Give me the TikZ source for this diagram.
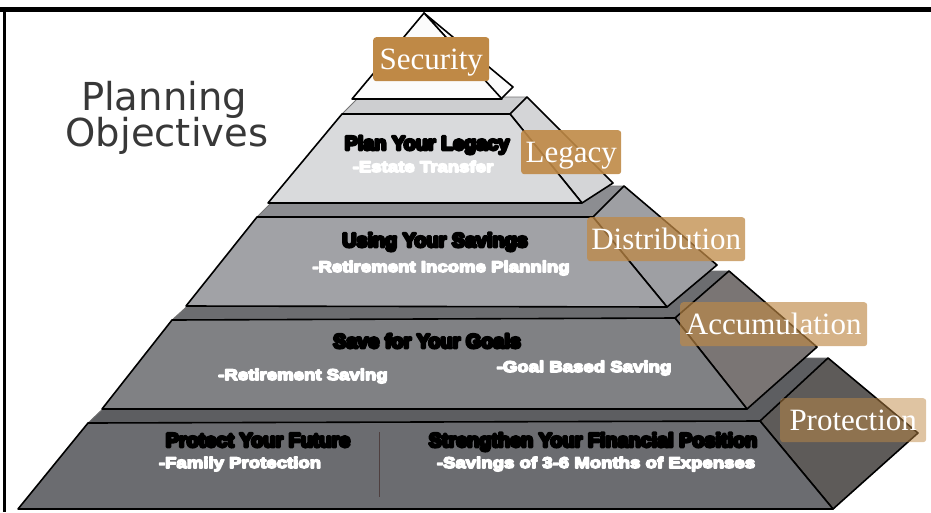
\documentclass[tikz,border=0pt]{standalone}
\usepackage{fontspec}
\newfontfamily\headfont{DejaVu Sans}
\newfontfamily\serfont{Liberation Serif}
\newfontfamily\heavyfont[FakeBold=14]{Liberation Sans Bold}
\newfontfamily\subfont[FakeStretch=1.2,FakeBold=10]{Liberation Sans Bold}
\definecolor{gold}{RGB}{191,137,70}
\definecolor{headgray}{RGB}{56,56,56}
\definecolor{fOne}{RGB}{251,251,251}
\definecolor{fTwo}{RGB}{217,218,220}
\definecolor{sTwo}{RGB}{212,213,215}
\definecolor{tTwo}{RGB}{205,206,208}
\definecolor{fThree}{RGB}{161,162,166}
\definecolor{sThree}{RGB}{158,159,163}
\definecolor{tThree}{RGB}{140,141,145}
\definecolor{fFour}{RGB}{128,129,132}
\definecolor{sFour}{RGB}{122,117,116}
\definecolor{tFour}{RGB}{108,109,112}
\definecolor{fFive}{RGB}{107,108,112}
\definecolor{sFive}{RGB}{94,91,89}
\definecolor{tFive}{RGB}{93,94,97}
\definecolor{divcol}{RGB}{78,63,63}
\begin{document}
\begin{tikzpicture}[x=1pt,y=-1pt,line join=round,
  face/.style={draw=black,line width=1.6pt},
  topface/.style={draw=black!55,line width=0.8pt},
  frame/.style={draw=black},
  lbl/.style={rounded corners=3pt,fill=gold,text=white,text opacity=1,
    font=\serfont\fontsize{31}{31}\selectfont,text height=25pt,text depth=5pt,
    inner ysep=7pt,inner xsep=0pt,minimum height=44pt,anchor=north west},
  ttl/.style={font=\heavyfont\fontsize{19.8}{19.8}\selectfont,anchor=base,inner sep=0pt},
  sub/.style={font=\subfont\fontsize{15.5}{15.5}\selectfont,text=white,anchor=base,inner sep=0pt},
  head/.style={font=\headfont\fontsize{38.5}{38.5}\selectfont,text=headgray,anchor=base,inner sep=0pt},
  divider/.style={draw=divcol,line width=1pt}]
\useasboundingbox (0,0) rectangle (931,512);

% frame
\draw[frame,line width=5pt] (0,9.5) -- (931,9.5);
\draw[frame,line width=3pt] (4.5,8) -- (4.5,512);

% ---------- layer 5 (Protection) ----------
\filldraw[topface,fill=tFive] (88,423) -- (156,358) -- (828,358) -- (760,421) -- cycle;
\filldraw[face,fill=sFive] (760,421) -- (828,358) -- (918,433) -- (833,509) -- cycle;
\filldraw[face,fill=fFive] (88,423) -- (760,421) -- (833,509) -- (18,509) -- cycle;

% ---------- layer 4 (Accumulation) ----------
\filldraw[topface,fill=tFour] (172,320) -- (226,271) -- (729,271) -- (675,318) -- cycle;
\filldraw[face,fill=sFour] (675,318) -- (729,271) -- (817,347) -- (747,409) -- cycle;
\filldraw[face,fill=fFour] (172,320) -- (675,318) -- (747,409) -- (102,409) -- cycle;

% ---------- layer 3 (Distribution) ----------
\filldraw[topface,fill=tThree] (257,217) -- (288,186) -- (624,186) -- (593,217) -- cycle;
\filldraw[face,fill=sThree] (593,217) -- (624,186) -- (717,265) -- (667,307) -- cycle;
\filldraw[face,fill=fThree] (257,217) -- (593,217) -- (667,307) -- (186,306) -- cycle;

% ---------- layer 2 (Legacy) ----------
\filldraw[topface,fill=tTwo] (342,114) -- (359,97) -- (527,97) -- (510,114) -- cycle;
\filldraw[face,fill=sTwo] (510,114) -- (527,97) -- (613,183) -- (582,203) -- cycle;
\filldraw[face,fill=fTwo] (342,114) -- (510,114) -- (582,203) -- (268,203) -- cycle;

% ---------- layer 1 (Security) ----------
\filldraw[face,fill=fOne] (424,13) -- (513,87) -- (501,99) -- cycle;
\filldraw[face,fill=fOne] (424,13) -- (502,99) -- (352,99) -- cycle;

% divider in bottom layer
\coordinate (dtop) at (379,432);
\coordinate (dbot) at (379,497);
\draw[divider] (dtop) -- (dbot);

% heading
\node[head] (plan) at (164,110) {Planning};
\node[head] (obj) at (167,146) {Objectives};

% texts on layers
\node[ttl] (t2) at (427,150) {Plan Your Legacy};
\node[sub] (s2) at (423,172) {-Estate Transfer};
\node[ttl] (t3) at (435,247) {Using Your Savings};
\node[sub] (s3) at (441,272) {-Retirement Income Planning};
\node[ttl] (t4) at (427,348) {Save for Your Goals};
\node[sub] (s4a) at (303,380) {-Retirement Saving};
\node[sub] (s4b) at (584,372) {-Goal Based Saving};
\node[ttl] (t5a) at (258,447) {Protect Your Future};
\node[sub] (s5a) at (240,468) {-Family Protection};
\node[ttl] (t5b) at (593,447) {Strengthen Your Financial Position};
\node[sub] (s5b) at (596,468) {-Savings of 3-6 Months of Expenses};

% gold labels
\node[lbl,minimum width=116pt] (lsec) at (373,37) {Security};
\node[lbl,minimum width=100pt,fill opacity=0.9] (lleg) at (521,130) {Legacy};
\node[lbl,minimum width=158pt,fill opacity=0.75] (ldis) at (587,217) {Distribution};
\node[lbl,minimum width=187pt,fill opacity=0.65] (lacc) at (680,302) {Accumulation};
\node[lbl,minimum width=146pt,fill opacity=0.5] (lpro) at (780,398) {Protection};
\end{tikzpicture}
\end{document}
